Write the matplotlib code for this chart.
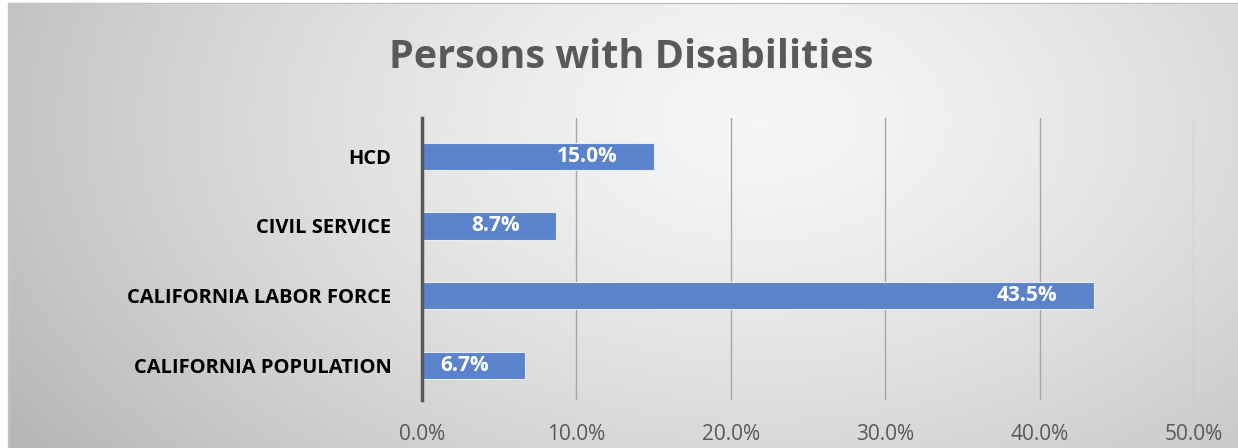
import numpy as np
import matplotlib.pyplot as plt
from matplotlib.patches import Rectangle

# data
categories = ['CALIFORNIA POPULATION', 'CALIFORNIA LABOR FORCE', 'CIVIL SERVICE', 'HCD']
values = [6.7, 43.5, 8.7, 15.0]
ticks = [0, 10, 20, 30, 40, 50]

plt.rcParams['font.family'] = ['Open Sans', 'DejaVu Sans']

fig = plt.figure(figsize=(12.38, 4.48), dpi=100)

# gradient background (lighter near the upper middle, grey at edges)
bg = fig.add_axes([0, 0, 1, 1], zorder=0)
gx, gy = np.meshgrid(np.linspace(0, 1238, 400), np.linspace(0, 448, 150))
d = np.sqrt(((gx - 760) / 820) ** 2 + ((gy - 120) / 520) ** 2)
shade = 0.965 - 0.22 * np.clip(d, 0, 1.2) ** 1.4
bg.imshow(np.dstack([shade] * 3), extent=[0, 1238, 448, 0], aspect='auto')
bg.set_xlim(0, 1238)
bg.set_ylim(448, 0)
bg.axis('off')
# white margin at top/left with a thin border
bg.add_patch(Rectangle((0, 0), 1238, 3, color='white'))
bg.add_patch(Rectangle((0, 0), 8, 448, color='white'))
bg.plot([8, 8, 1238], [448, 3, 3], color='#bfbfbf', lw=1)

ax = fig.add_axes([422 / 1238, 1 - 400 / 448, 772 / 1238, 282 / 448], zorder=1)
ax.patch.set_alpha(0)

y = np.arange(len(categories))
bars = ax.barh(y, values, height=0.39, color='#5b83cb', edgecolor='#e6ecf7', linewidth=0.8, zorder=3)

for yi, v in zip(y, values):
    ax.annotate(f'{v:.1f}%', (v, yi), xytext=(-26, 0), textcoords='offset points',
                ha='right', va='center', color='white', fontsize=15, fontweight='bold', zorder=4)

ax.set_xlim(0, 50)
ax.set_ylim(-0.5, 3.55)
ax.set_xticks(ticks)
ax.set_xticklabels([f'{t:.1f}%' for t in ticks], color='#595959', fontsize=15)
ax.set_yticks(y)
ax.set_yticklabels(categories, fontsize=14.5, fontweight='bold', color='black')
ax.tick_params(axis='both', length=0)
ax.tick_params(axis='y', pad=22)
ax.tick_params(axis='x', pad=17)
ax.grid(axis='x', color='#a6a6a6', lw=1, zorder=0)
for s in ['top', 'right', 'bottom']:
    ax.spines[s].set_visible(False)
ax.spines['left'].set_color('#595959')
ax.spines['left'].set_linewidth(2.5)
ax.spines['left'].set_zorder(5)

fig.text(631 / 1238, 1 - 57 / 448, 'Persons with Disabilities', ha='center', va='center',
         fontsize=28.5, fontweight='bold', color='#595959')

fig.savefig('out.png', dpi=100)
